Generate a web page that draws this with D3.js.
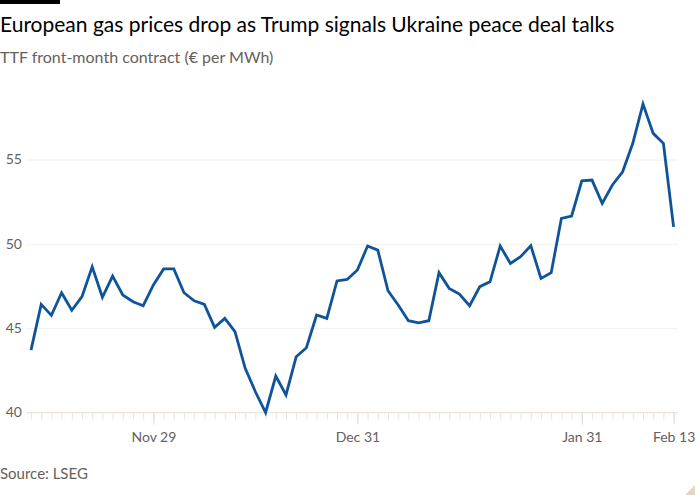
<!DOCTYPE html>
<html>
<head>
<meta charset="utf-8">
<script src="https://cdn.jsdelivr.net/npm/d3@7"></script>
<style>
  body { margin: 0; background: #fff; }
  svg { display: block; font-family: Lato, "Noto Sans", sans-serif; }
</style>
</head>
<body>
<div class="chart"></div>
<script>
// trading days Nov 13 2024 - Feb 13 2025 (exchange holidays left out)
var startDay = "2024-11-13";
var endDay = "2025-02-13";
var holidays = ["2024-12-25", "2024-12-26", "2025-01-01"];

// TTF front-month, € per MWh
var prices = [
    43.70, 46.41, 45.76, 47.10, 46.06, 46.87, 48.64, 46.83, 48.09, 46.97, 46.57, 46.33, 47.56,
    48.51, 48.51, 47.10, 46.62, 46.41, 45.05, 45.58, 44.79, 42.62, 41.23, 40.00, 42.16, 41.04,
    43.31, 43.84, 45.78, 45.58, 47.80, 47.89, 48.45,
    49.87, 49.63, 47.22, 46.37, 45.44, 45.32, 45.44, 48.29, 47.36, 47.02, 46.33, 47.46, 47.75,
    49.87, 48.84, 49.24, 49.89, 47.95, 48.29, 51.51, 51.65, 53.74,
    53.78, 52.40, 53.49, 54.27, 55.96, 58.29, 56.55, 55.96, 51.01
];

var yTicks = [40, 45, 50, 55];
var labelledDays = ["2024-11-29", "2024-12-31", "2025-01-31", "2025-02-13"];

var parseDay = d3.timeParse("%Y-%m-%d");
var fmtDay = d3.timeFormat("%Y-%m-%d");

var days = d3.timeDay.range(parseDay(startDay), d3.timeDay.offset(parseDay(endDay), 1))
    .filter(function (d) { return d.getDay() !== 0 && d.getDay() !== 6; })
    .map(fmtDay)
    .filter(function (d) { return holidays.indexOf(d) < 0; });

var width = 700,
    height = 500,
    plotLeft = 26,
    plotRight = 678;

var svg = d3.select(".chart").append("svg")
    .attr("width", width)
    .attr("height", height);

// header
svg.append("rect").attr("x", 0).attr("y", 0).attr("width", 60).attr("height", 4).attr("fill", "#000");

svg.append("text")
    .attr("x", 0).attr("y", 32)
    .attr("font-size", 21)
    .attr("fill", "#000")
    .text("European gas prices drop as Trump signals Ukraine peace deal talks");

svg.append("text")
    .attr("x", 0).attr("y", 63)
    .attr("font-size", 16)
    .attr("fill", "#66605c")
    .text("TTF front-month contract (€ per MWh)");

var x = d3.scalePoint()
    .domain(days)
    .range([31, 673.6]);

var y = d3.scaleLinear()
    .domain([40, 55])
    .range([412.5, 159.5]);

// y grid + labels
var yAxis = svg.append("g")
    .attr("transform", "translate(" + plotLeft + ",0)")
    .call(d3.axisLeft(y).tickValues(yTicks).tickSize(-(plotRight - plotLeft)).tickPadding(4));

yAxis.select(".domain").remove();
yAxis.selectAll(".tick line").attr("stroke", "#f2efec");
yAxis.selectAll(".tick text")
    .attr("fill", "#66605c")
    .attr("font-size", 14)
    .attr("font-family", "Lato, 'Noto Sans', sans-serif");

// baseline
svg.append("line")
    .attr("x1", plotLeft).attr("x2", plotRight)
    .attr("y1", y(40)).attr("y2", y(40))
    .attr("stroke", "#efe5dc");

// minor ticks on every trading day
var xMinor = svg.append("g")
    .attr("transform", "translate(0," + y(40) + ")")
    .call(d3.axisBottom(x).tickSize(7).tickFormat(""));
xMinor.select(".domain").remove();
xMinor.selectAll(".tick line").attr("stroke", "#ece3db");

// labelled ticks
var xMajor = svg.append("g")
    .attr("transform", "translate(0," + y(40) + ")")
    .call(d3.axisBottom(x).tickValues(labelledDays).tickSize(12).tickPadding(8)
        .tickFormat(function (d) { return d3.timeFormat("%b %-d")(parseDay(d)); }));
xMajor.select(".domain").remove();
xMajor.selectAll(".tick line").attr("stroke", "#e3d8ce");
xMajor.selectAll(".tick text")
    .attr("fill", "#66605c")
    .attr("font-size", 14)
    .attr("font-family", "Lato, 'Noto Sans', sans-serif");

// price line
var line = d3.line()
    .x(function (d, i) { return x(days[i]); })
    .y(function (d) { return y(d); });

svg.append("path")
    .datum(prices)
    .attr("d", line)
    .attr("fill", "none")
    .attr("stroke", "#0f5499")
    .attr("stroke-width", 2.8)
    .attr("stroke-linejoin", "miter");

svg.append("text")
    .attr("x", 0).attr("y", 479)
    .attr("font-size", 15)
    .attr("fill", "#66605c")
    .text("Source: LSEG");

// corner fold
svg.append("path")
    .attr("d", "M685,495L695,485L695,495Z")
    .attr("fill", "#e6d6c6");
</script>
</body>
</html>
